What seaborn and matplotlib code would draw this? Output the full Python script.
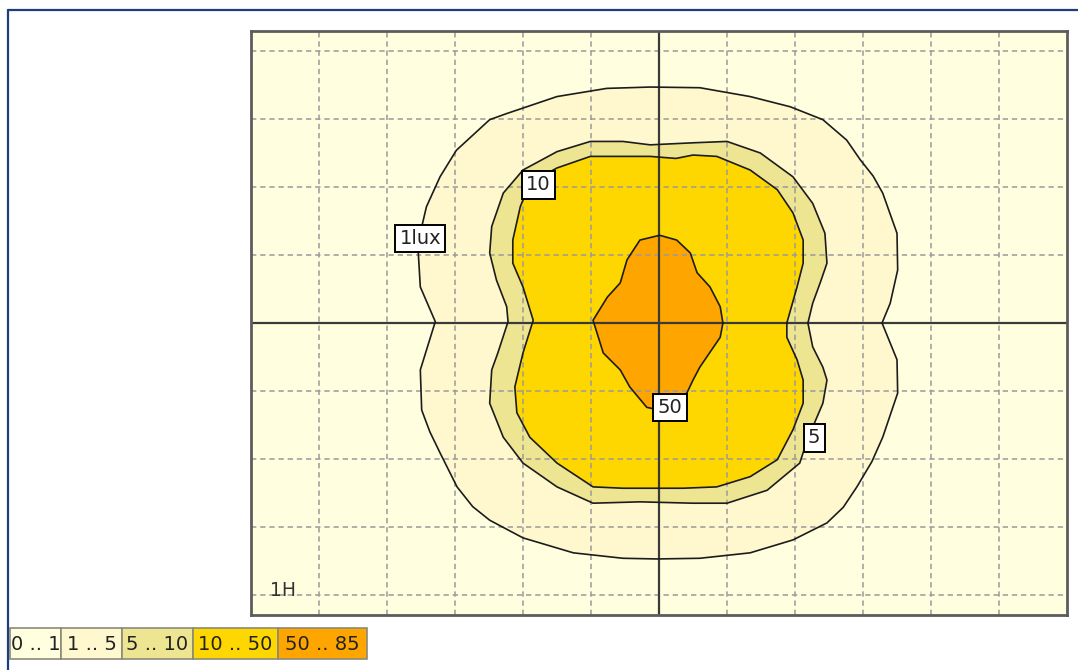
import matplotlib
matplotlib.use("Agg")
import matplotlib.pyplot as plt
import seaborn as sns
import pandas as pd
from matplotlib.patches import Rectangle
from matplotlib.lines import Line2D

# Isolux outlines on the floor plane, in mounting heights (H) from the luminaire.
lux1_x = [3.28, 3.40, 3.51, 3.50, 3.29, 3.15, 2.96, 2.76, 2.41, 1.93, 1.34, 0.60, -0.13, -0.77,
          -1.50, -2.24, -2.49, -2.98, -3.22, -3.42, -3.50, -3.54, -3.51, -3.29, -3.51, -3.49,
          -3.37, -3.22, -2.97, -2.74, -2.49, -2.00, -1.26, -0.53, -0.03, 0.60, 1.34, 1.97,
          2.47, 2.71, 2.91, 3.13, 3.29, 3.51, 3.50]
lux1_y = [0.00, 0.29, 0.78, 1.32, 1.91, 2.16, 2.40, 2.69, 2.99, 3.18, 3.33, 3.46, 3.47, 3.45,
          3.33, 3.08, 2.99, 2.54, 2.15, 1.71, 1.37, 1.03, 0.53, 0.02, -0.69, -1.28,
          -1.60, -1.91, -2.41, -2.70, -2.90, -3.16, -3.38, -3.46, -3.47, -3.46, -3.38, -3.19,
          -2.94, -2.71, -2.41, -2.04, -1.68, -1.03, -0.54]

lux5_x = [2.19, 2.26, 2.37, 2.47, 2.44, 2.26, 1.97, 1.49, 1.00, 0.50, -0.13, -0.53, -1.01,
          -1.50, -2.00, -2.29, -2.46, -2.49, -2.39, -2.24, -2.22, -2.37, -2.46, -2.49, -2.29,
          -2.00, -1.50, -0.97, -0.28, 0.50, 1.00, 1.59, 2.07, 2.18, 2.41, 2.47, 2.41, 2.26]
lux5_y = [0.00, 0.29, 0.59, 0.88, 1.32, 1.76, 2.15, 2.50, 2.67, 2.65, 2.62, 2.67, 2.67,
          2.52, 2.25, 1.91, 1.42, 1.03, 0.63, 0.24, 0.02, -0.44, -0.69, -1.18, -1.68,
          -2.06, -2.41, -2.65, -2.63, -2.65, -2.65, -2.46, -2.06, -1.72, -1.18, -0.84, -0.65, -0.35]

lux10_x = [1.88, 2.03, 2.12, 2.12, 1.97, 1.74, 1.34, 0.85, 0.50, 0.25, -0.13, -0.53, -1.01,
           -1.50, -1.90, -2.04, -2.15, -2.15, -2.00, -1.85, -2.00, -2.12, -2.09, -1.90, -1.50,
           -0.97, -0.53, -0.03, 0.35, 0.85, 1.34, 1.74, 1.97, 2.12, 2.12, 2.03, 1.88]
lux10_y = [0.00, 0.53, 0.88, 1.22, 1.62, 1.96, 2.25, 2.45, 2.47, 2.42, 2.45, 2.45, 2.45,
           2.28, 2.06, 1.71, 1.22, 0.88, 0.53, 0.04, -0.44, -0.94, -1.32, -1.68, -2.06,
           -2.41, -2.43, -2.43, -2.43, -2.41, -2.26, -2.01, -1.57, -1.18, -0.84, -0.54, -0.21]

lux50_x = [0.94, 0.90, 0.75, 0.56, 0.46, 0.26, 0.01, -0.28, -0.47, -0.57, -0.76, -0.97,
           -0.82, -0.57, -0.43, -0.18, 0.00, 0.41, 0.50, 0.60, 0.90]
lux50_y = [0.00, 0.24, 0.53, 0.74, 1.03, 1.22, 1.29, 1.22, 0.93, 0.59, 0.38, 0.04,
           -0.44, -0.69, -0.94, -1.24, -1.28, -1.03, -0.84, -0.65, -0.21]

band_labels = ["0 .. 1", "1 .. 5", "5 .. 10", "10 .. 50", "50 .. 85"]
band_colors = ["#FFFFE0", "#FFF8CF", "#EEE592", "#FFD700", "#FFA500"]
line_labels = ["1lux", "10", "50", "5"]
grid_x = [-5, -4, -3, -2, -1, 1, 2, 3, 4, 5]
grid_y = [-4, -3, -2, -1, 1, 2, 3, 4]
scale_label = "1H"

outlines = pd.concat([
    pd.DataFrame({"x": xs + xs[:1], "y": ys + ys[:1], "level": lvl})
    for lvl, xs, ys in [(1, lux1_x, lux1_y), (5, lux5_x, lux5_y),
                        (10, lux10_x, lux10_y), (50, lux50_x, lux50_y)]
], ignore_index=True)

sns.set_theme(style="white")
plt.rcParams["font.family"] = ["DejaVu Sans"]

W, H = 1078, 670
fig = plt.figure(figsize=(W / 100, H / 100), dpi=100)
fig.patch.set_facecolor("white")

# main plan view, 68 px per H
ax = fig.add_axes([251 / W, 1 - 615 / H, 816 / W, 584 / H])
ax.set_facecolor(band_colors[0])
ax.set_xlim(-6, 6)
ax.set_ylim(-292 / 68, 292 / 68)

for i, lvl in enumerate([1, 5, 10, 50]):
    d = outlines[outlines["level"] == lvl]
    ax.fill(d["x"], d["y"], color=band_colors[i + 1], lw=0, zorder=1 + i)

for gx in grid_x:
    ax.axvline(gx, color="#9a9a9a", lw=1.1, ls=(0, (3.5, 2.5)), zorder=6)
for gy in grid_y:
    ax.axhline(gy, color="#9a9a9a", lw=1.1, ls=(0, (3.5, 2.5)), zorder=6)
ax.axvline(0, color="#3a3a3a", lw=1.6, zorder=7)
ax.axhline(0, color="#3a3a3a", lw=1.6, zorder=7)

for lvl in [1, 5, 10, 50]:
    d = outlines[outlines["level"] == lvl]
    sns.lineplot(data=d, x="x", y="y", sort=False, estimator=None,
                 color="#1c1c1c", lw=1.2, ax=ax, zorder=8, legend=False)

label_pos = [(-3.51, 1.24), (-1.77, 2.03), (0.16, -1.24), (2.28, -1.69)]
for txt, (lx, ly) in zip(line_labels, label_pos):
    ax.text(lx, ly, txt, ha="center", va="center", fontsize=14, color="#222",
            zorder=10,
            bbox=dict(boxstyle="square,pad=0.22", fc="white", ec="black", lw=1.4))

ax.text(-5.72, -3.93, scale_label, ha="left", va="center", fontsize=13.5,
        color="#333", zorder=10)

ax.set_xticks([])
ax.set_yticks([])
ax.set_xlabel("")
ax.set_ylabel("")
for s in ax.spines.values():
    s.set_color("#5c5c5c")
    s.set_linewidth(2)
    s.set_zorder(11)

# colour key
lg = fig.add_axes([0, 0, 1, 1], facecolor="none")
lg.set_xlim(0, W)
lg.set_ylim(H, 0)
lg.axis("off")
edges = [10, 61, 122, 193, 278, 367]
for i, (lab, col) in enumerate(zip(band_labels, band_colors)):
    x0, x1 = edges[i], edges[i + 1]
    lg.add_patch(Rectangle((x0, 628), x1 - x0, 31, fc=col, ec="#8a8a7a", lw=1.2))
    lg.text((x0 + x1) / 2, 644, lab, ha="center", va="center", fontsize=14, color="#222")

# window frame
fig.add_artist(Line2D([8 / W, 8 / W], [0, 1 - 10 / H], transform=fig.transFigure,
                      color="#1f3c7c", lw=1.6))
fig.add_artist(Line2D([8 / W, 1], [1 - 10 / H, 1 - 10 / H], transform=fig.transFigure,
                      color="#1f3c7c", lw=1.6))

fig.savefig("out.png", dpi=100)
